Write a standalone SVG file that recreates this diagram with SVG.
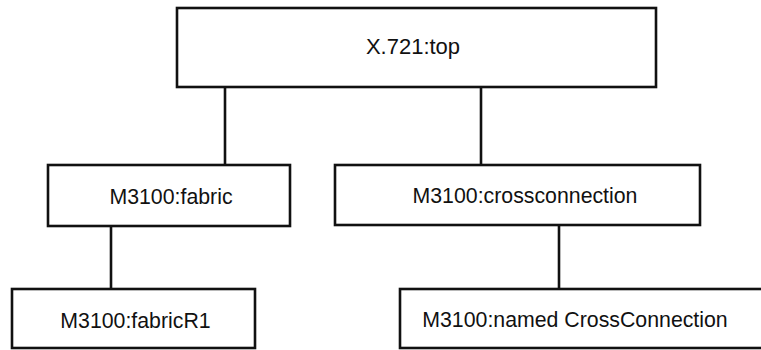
<svg xmlns="http://www.w3.org/2000/svg" width="761" height="350" viewBox="0 0 761 350">
<style>
.box{fill:#fff;stroke:#111;stroke-width:2.6}
.lbl{font-family:"Liberation Sans",Arial,sans-serif;font-size:21.3px;fill:#111;text-anchor:middle}
.con line{stroke:#111;stroke-width:2.6}
</style>
<rect width="761" height="350" fill="#fff"/>
<g class="con" id="connectors">
<line x1="225" y1="87" x2="225" y2="165"/>
<line x1="481" y1="87" x2="481" y2="165"/>
<line x1="111" y1="226" x2="111" y2="289"/>
<line x1="559" y1="225" x2="559" y2="289"/>
</g>
<g id="top"><rect class="box" x="177" y="8" width="479" height="79"/><text class="lbl" x="413" y="54" style="font-size:22px">X.721:top</text></g>
<g id="fabric"><rect class="box" x="48" y="165" width="242" height="61"/><text class="lbl" x="171" y="204">M3100:fabric</text></g>
<g id="crossconnection"><rect class="box" x="335" y="165" width="365" height="60"/><text class="lbl" x="525" y="203">M3100:crossconnection</text></g>
<g id="fabricR1"><rect class="box" x="12" y="289" width="243" height="59"/><text class="lbl" x="135.5" y="328">M3100:fabricR1</text></g>
<g id="namedCrossConnection"><rect class="box" x="400" y="289" width="370" height="59"/><text class="lbl" x="575" y="327">M3100:named CrossConnection</text></g>
</svg>
